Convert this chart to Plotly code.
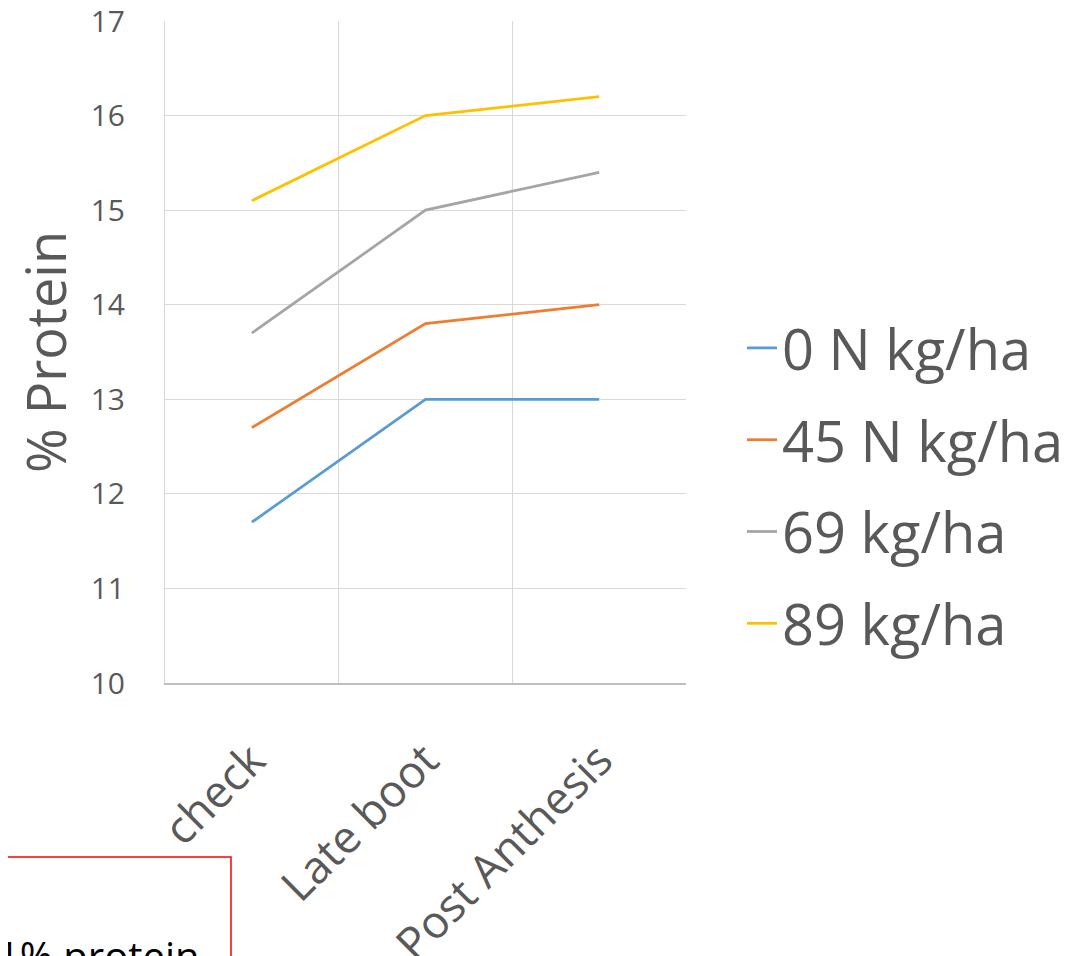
import plotly.graph_objects as go

categories = ["check", "Late boot", "Post Anthesis"]
series_names = ["0 N kg/ha", "45 N kg/ha", "69 kg/ha", "89 kg/ha"]
n0 = [11.7, 13.0, 13.0]
n45 = [12.7, 13.8, 14.0]
n69 = [13.7, 15.0, 15.4]
n89 = [15.1, 16.0, 16.2]
colors = ["#5b9bd5", "#ed7d31", "#a5a5a5", "#ffc000"]

OFF = 8  # default body margin of the page
W, H = 1089 - OFF, 956 - OFF
# plot area in page pixels
L, R, T, B = 165, 686, 21, 683
pw, ph = R - L, B - T

def px(x):
    return (x - L) / pw

def py(y):
    return (B - y) / ph

fig = go.Figure()
for i, (name, vals) in enumerate(zip(series_names, [n0, n45, n69, n89])):
    fig.add_trace(go.Scatter(
        x=categories, y=vals, mode="lines", name=name,
        line=dict(color=colors[i], width=2.75),
        legendgroup=f"g{i}",
    ))

font_family = "Open Sans, Liberation Sans, sans-serif"
fig.update_layout(
    width=W, height=H,
    margin=dict(l=L - OFF, r=W - (R - OFF), t=T - OFF, b=H - (B - OFF), autoexpand=False),
    paper_bgcolor="white", plot_bgcolor="white",
    font=dict(family=font_family, color="#595959"),
    showlegend=True,
    legend=dict(
        x=px(742), y=py(486), xanchor="left", yanchor="middle",
        font=dict(size=56, color="#595959"),
        tracegroupgap=16,
        bgcolor="rgba(0,0,0,0)",
    ),
    xaxis=dict(
        type="category", tickson="boundaries", automargin=False,
        showgrid=True, gridcolor="#d9d9d9", gridwidth=1,
        showline=True, linecolor="#bfbfbf", linewidth=1.5,
        ticks="", tickangle=-45, ticklabelstandoff=31,
        ticklabeloverflow="allow",
        tickfont=dict(size=45, color="#595959"),
        range=[-0.5, 2.5],
    ),
    yaxis=dict(
        range=[10, 17], dtick=1, tick0=10, automargin=False,
        showgrid=True, gridcolor="#d9d9d9", gridwidth=1,
        showline=True, linecolor="#d9d9d9", linewidth=1,
        zeroline=False, ticks="", ticklabelstandoff=33,
        ticklabeloverflow="allow",
        tickfont=dict(size=30, color="#595959"),
        title=dict(text="% Protein", font=dict(size=54, color="#595959"), standoff=14),
    ),
)

fig.add_shape(
    type="rect", xref="paper", yref="paper",
    x0=px(-5), x1=px(231), y0=py(857), y1=py(1000),
    line=dict(color="#ff0000", width=1.5), fillcolor="rgba(0,0,0,0)",
)
fig.add_annotation(
    xref="paper", yref="paper", x=px(202), y=py(955),
    xanchor="right", yanchor="middle", showarrow=False,
    text="1% protein", font=dict(size=40, color="#000000", family=font_family),
)

fig.write_html("out.html")
